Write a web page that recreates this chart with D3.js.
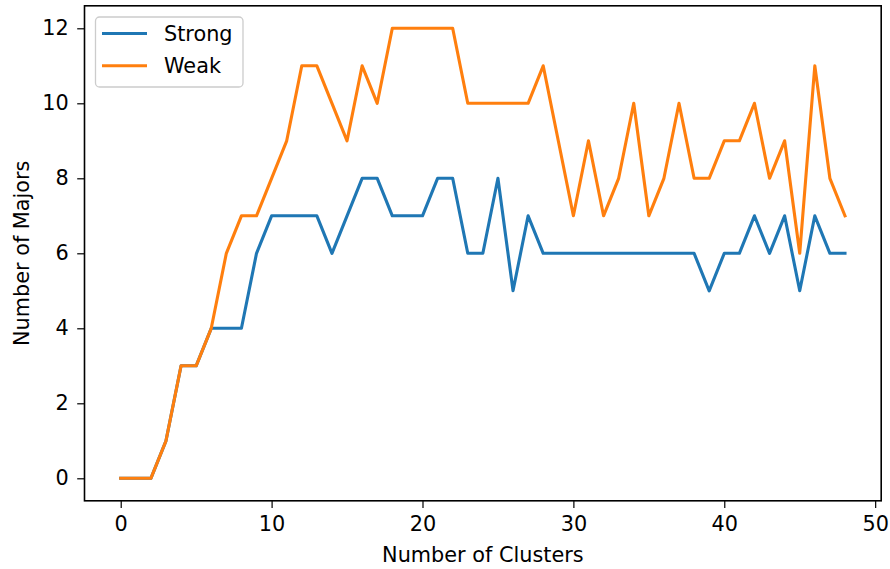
<!DOCTYPE html>
<html><head><meta charset="utf-8">
<script src="https://cdn.jsdelivr.net/npm/d3@7"></script>
<style>body{margin:0;background:#fff}svg{display:block}text{font-family:"DejaVu Sans",sans-serif}</style>
</head><body>
<svg id="c" width="890" height="569"></svg>
<script>
const clusters = d3.range(0, 49);
const strong = [0,0,0,1,3,3,4,4,4,6,7,7,7,7,6,7,8,8,7,7,7,8,8,6,6,8,5,7,6,6,6,6,6,6,6,6,6,6,6,5,6,6,7,6,7,5,7,6,6];
const weak = [0,0,0,1,3,3,4,6,7,7,8,9,11,11,10,9,11,10,12,12,12,12,12,10,10,10,10,10,11,9,7,9,7,8,10,7,8,10,8,8,9,9,10,8,9,6,11,8,7];
const xTicks = [0,10,20,30,40,50];
const yTicks = [0,2,4,6,8,10,12];
const seriesNames = ["Strong","Weak"];
const colors = ["#1f77b4","#ff7f0e"];

const svg = d3.select("#c");
const L = 84.5, R = 881.2, T = 5.8, B = 500.8;
const x = d3.scaleLinear().domain([-2.4, 50.4]).range([L, R]);
const y = d3.scaleLinear().domain([-0.6, 12.6]).range([B, T]);
const fs = 20.8;

const xa = svg.append("g").attr("transform", `translate(0,${B})`)
  .call(d3.axisBottom(x).tickValues(xTicks).tickSize(7.3).tickPadding(8.5));
const ya = svg.append("g").attr("transform", `translate(${L},0)`)
  .call(d3.axisLeft(y).tickValues(yTicks).tickSize(7.3).tickPadding(8.5));
[xa, ya].forEach(a => {
  a.select(".domain").remove();
  a.selectAll("line").attr("stroke", "#000").attr("stroke-width", 1.2);
  a.selectAll("text").attr("font-size", fs).attr("fill", "#000").attr("font-family", "DejaVu Sans");
});

const line = d3.line().x((d, i) => x(clusters[i])).y(d => y(d));
[strong, weak].forEach((s, k) => {
  svg.append("path").datum(s).attr("d", line).attr("fill", "none")
    .attr("stroke", colors[k]).attr("stroke-width", 3.1).attr("stroke-linejoin", "round").attr("stroke-linecap", "square");
});

svg.append("rect").attr("x", L).attr("y", T).attr("width", R - L).attr("height", B - T)
  .attr("fill", "none").attr("stroke", "#000").attr("stroke-width", 1.6);

svg.append("text").attr("x", (L + R) / 2).attr("y", 561.5).attr("text-anchor", "middle")
  .attr("font-size", fs).text("Number of Clusters");
svg.append("text").attr("transform", `translate(28.5,${(T + B) / 2}) rotate(-90)`).attr("text-anchor", "middle")
  .attr("font-size", fs).text("Number of Majors");

const lg = svg.append("g");
lg.append("rect").attr("x", 95.5).attr("y", 17).attr("width", 147.5).attr("height", 70).attr("rx", 4)
  .attr("fill", "#fff").attr("fill-opacity", 0.8).attr("stroke", "#ccc").attr("stroke-width", 1.3);
seriesNames.forEach((n, i) => {
  const yy = 33.5 + i * 32.3;
  lg.append("line").attr("x1", 102).attr("x2", 147).attr("y1", yy).attr("y2", yy)
    .attr("stroke", colors[i]).attr("stroke-width", 3.1);
  lg.append("text").attr("x", 164).attr("y", yy + 7.5).attr("font-size", fs).text(n);
});
</script>
</body></html>
